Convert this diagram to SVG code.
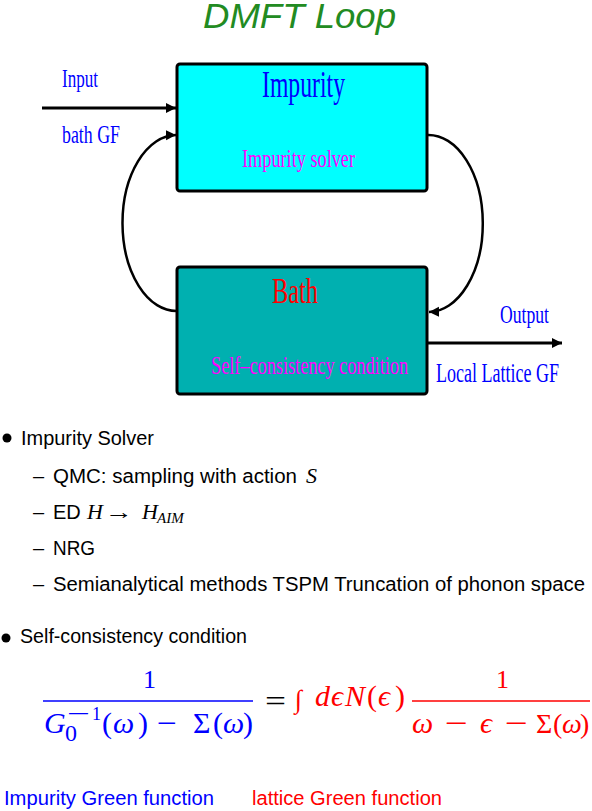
<svg xmlns="http://www.w3.org/2000/svg" width="592" height="811" viewBox="0 0 592 811">
<style>
.box{stroke:#000;stroke-width:3}
.fig{font-family:"Liberation Serif","DejaVu Serif",serif}
.sans{font-family:"Liberation Sans","DejaVu Sans",sans-serif;font-size:20px;fill:#000}
.math{font-family:"Liberation Serif","DejaVu Serif",serif}
.it{font-style:italic}
.conn{fill:none;stroke:#000}
.blue{fill:#0000FF}
.red{fill:#FF0000}
.mag{fill:#FF00FF}
</style>
<defs>
<marker id="ah" markerUnits="userSpaceOnUse" markerWidth="12" markerHeight="12" refX="10" refY="5" orient="auto">
<path d="M0,0 L10,5 L0,10 z" fill="#000"/>
</marker>
</defs>
<rect width="592" height="811" fill="#fff"/>

<g id="title">
<text x="203" y="28" font-family="Liberation Sans, DejaVu Sans, sans-serif" font-style="italic" font-size="35" fill="#228B22" textLength="193" lengthAdjust="spacingAndGlyphs">DMFT Loop</text>
</g>

<g id="node-impurity">
<rect class="box" x="177" y="64" width="250" height="127" rx="3" fill="#00FFFF"/>
<text class="fig blue" x="262" y="97" font-size="38" textLength="83" lengthAdjust="spacingAndGlyphs">Impurity</text>
<text class="fig mag" x="242" y="167" font-size="26" textLength="113" lengthAdjust="spacingAndGlyphs">Impurity solver</text>
</g>

<g id="node-bath">
<rect class="box" x="177" y="267" width="250" height="127" rx="3" fill="#00B0B0"/>
<text class="fig red" x="272" y="303" font-size="36" textLength="46" lengthAdjust="spacingAndGlyphs">Bath</text>
<text class="fig mag" x="211" y="374" font-size="25" textLength="197" lengthAdjust="spacingAndGlyphs">Self–consistency condition</text>
</g>

<g id="labels">
<text class="fig blue" x="62" y="87" font-size="26" textLength="36" lengthAdjust="spacingAndGlyphs">Input</text>
<text class="fig blue" x="62" y="143" font-size="26" textLength="58" lengthAdjust="spacingAndGlyphs">bath GF</text>
<text class="fig blue" x="500" y="323" font-size="26" textLength="49" lengthAdjust="spacingAndGlyphs">Output</text>
<text class="fig blue" x="436" y="382" font-size="27" textLength="123" lengthAdjust="spacingAndGlyphs">Local Lattice GF</text>
</g>

<g id="connectors">
<line class="conn" x1="42" y1="108" x2="176" y2="108" stroke-width="3" marker-end="url(#ah)"/>
<line class="conn" x1="428" y1="343" x2="562" y2="343" stroke-width="3" marker-end="url(#ah)"/>
<path class="conn" d="M177,311 A54,88 0 0 1 176,135" stroke-width="2.5" marker-end="url(#ah)"/>
<path class="conn" d="M428,135 A54,88 0 0 1 429,312" stroke-width="2.5" marker-end="url(#ah)"/>
</g>

<g id="bullets">
<circle cx="7" cy="438" r="4.5" fill="#000"/>
<text class="sans" x="21" y="445" textLength="133" lengthAdjust="spacingAndGlyphs">Impurity Solver</text>
<text class="sans" x="33" y="483">–</text>
<text class="sans" x="53" y="483" textLength="244" lengthAdjust="spacingAndGlyphs">QMC: sampling with action</text>
<text class="math it" x="306" y="483" font-size="22">S</text>
<text class="sans" x="33" y="519">–</text>
<text class="sans" x="53" y="519">ED</text>
<text class="math it" x="87" y="519" font-size="22">H</text>
<text class="math" x="105" y="519" font-size="22" textLength="28" lengthAdjust="spacingAndGlyphs">→</text>
<text class="math it" x="142" y="519" font-size="22">H</text>
<text class="math it" x="157" y="523" font-size="15">AIM</text>
<text class="sans" x="33" y="555">–</text>
<text class="sans" x="53" y="555" textLength="42" lengthAdjust="spacingAndGlyphs">NRG</text>
<text class="sans" x="33" y="591">–</text>
<text class="sans" x="53" y="591" textLength="532" lengthAdjust="spacingAndGlyphs">Semianalytical methods TSPM Truncation of phonon space</text>
<circle cx="6" cy="638" r="4.5" fill="#000"/>
<text class="sans" x="20" y="643" textLength="227" lengthAdjust="spacingAndGlyphs">Self-consistency condition</text>
</g>

<g id="formula">
<text class="math blue" x="143" y="688" font-size="26">1</text>
<line x1="43" y1="701" x2="253" y2="701" stroke="#0000FF" stroke-width="1.3"/>
<text class="math blue" y="733" font-size="30"><tspan class="it" x="44">G</tspan><tspan x="102">(</tspan><tspan class="it" x="113">ω</tspan><tspan x="138">)</tspan><tspan x="193">Σ</tspan><tspan x="213">(</tspan><tspan class="it" x="223">ω</tspan><tspan x="243">)</tspan></text>
<text class="math blue" x="67" y="721" font-size="22" textLength="23" lengthAdjust="spacingAndGlyphs">−</text>
<text class="math blue" x="92" y="720" font-size="18">1</text>
<text class="math blue" x="65" y="741" font-size="24">0</text>
<text class="math blue" x="157" y="733" font-size="30" textLength="20" lengthAdjust="spacingAndGlyphs">−</text>
<text class="math" x="265" y="711" font-size="30" textLength="21" lengthAdjust="spacingAndGlyphs">=</text>
<text class="math it red" x="295" y="708" font-size="26">∫</text>
<text class="math red" y="706" font-size="30"><tspan class="it" x="315">d</tspan><tspan class="it" x="331">ϵ</tspan><tspan class="it" x="345">N</tspan><tspan x="367">(</tspan><tspan class="it" x="378">ϵ</tspan><tspan x="395">)</tspan></text>
<text class="math red" x="496" y="688" font-size="26">1</text>
<line x1="412" y1="701" x2="590" y2="701" stroke="#FF0000" stroke-width="1.3"/>
<text class="math red" y="733" font-size="30"><tspan class="it" x="412">ω</tspan><tspan x="480" class="it">ϵ</tspan></text>
<text class="math red" y="733" font-size="28"><tspan x="536">Σ</tspan><tspan x="553">(</tspan><tspan class="it" x="562">ω</tspan><tspan x="580">)</tspan></text>
<text class="math red" x="445" y="733" font-size="30" textLength="23" lengthAdjust="spacingAndGlyphs">−</text>
<text class="math red" x="505" y="733" font-size="30" textLength="23" lengthAdjust="spacingAndGlyphs">−</text>
</g>

<g id="legend">
<text class="sans blue" x="4" y="805" textLength="210" lengthAdjust="spacingAndGlyphs">Impurity Green function</text>
<text class="sans red" x="252" y="805" textLength="190" lengthAdjust="spacingAndGlyphs">lattice Green function</text>
</g>
</svg>
